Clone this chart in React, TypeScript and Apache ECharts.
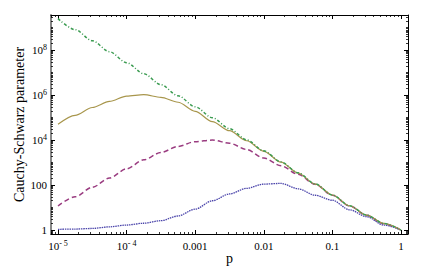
import React, { useEffect, useRef } from 'react';
import * as echarts from 'echarts';

// p grid (quarter decades)
const P_VALUES = [
  1e-5, 1.778e-5, 3.162e-5, 5.623e-5,
  1e-4, 1.778e-4, 3.162e-4, 5.623e-4,
  1e-3, 1.778e-3, 3.162e-3, 5.623e-3,
  0.01, 0.01778, 0.03162, 0.05623,
  0.1, 0.1778, 0.3162, 0.5623,
  1,
];

// dash-dot green
const GREEN = [
  2.5e9, 8.1e8, 2.6e8, 8.5e7,
  2.75e7, 8.9e6, 2.9e6, 9.3e5,
  3.0e5, 9.8e4, 3.2e4, 1.02e4,
  3300, 1070, 350, 112,
  36, 12, 4.6, 1.95,
  1.0,
];

// solid olive
const OLIVE = [
  5.0e4, 1.26e5, 2.8e5, 5.2e5,
  8.9e5, 1.05e6, 7.9e5, 4.8e5,
  1.9e5, 6.6e4, 2.6e4, 9300,
  3150, 1050, 340, 110,
  36, 12, 4.6, 1.95,
  1.0,
];

// dashed purple
const PURPLE = [
  11.7, 30, 79, 204,
  525, 1320, 2800, 5200,
  8500, 1.0e4, 7200, 3800,
  1580, 720, 300, 107,
  35, 11.7, 4.5, 1.9,
  1.0,
];

// dotted blue
const BLUE = [
  1.07, 1.1, 1.17, 1.38,
  1.66, 2.0, 2.6, 4.2,
  8.5, 20, 40, 71,
  110, 118, 68, 35,
  21, 7.9, 3.9, 1.66,
  1.0,
];

const X_TICK_EXP = [-5, -4, -3, -2, -1, 0];
const X_TICK_LABELS = ['10^-5', '10^-4', '0.001', '0.01', '0.1', '1'];
const Y_TICK_EXP = [0, 2, 4, 6, 8];
const Y_TICK_LABELS = ['1', '100', '10^4', '10^6', '10^8'];

const FONT = '"Liberation Serif", "DejaVu Serif", serif';

const X_MIN = -5.102;
const X_MAX = 0.102;
const Y_MIN = -0.178;
const Y_MAX = 9.56;

function minorTicks(lo: number, hi: number, majors: number[]) {
  const out: number[] = [];
  for (let n = Math.floor(lo) - 1; n <= Math.ceil(hi); n++) {
    for (let k = 1; k <= 9; k++) {
      const v = n + Math.log10(k);
      if (v <= lo || v >= hi) continue;
      if (k === 1 && majors.includes(n)) continue;
      out.push(v);
    }
  }
  return out;
}

function richLabel(s: string, b: string, sup: string) {
  if (s.includes('^')) {
    const [base, exp] = s.split('^');
    return `{${b}|${base}}{${sup}|${exp.replace('-', '- ')}}`;
  }
  return `{${b}|${s}}`;
}

export default function App() {
  const ref = useRef<HTMLDivElement>(null);
  useEffect(() => {
    if (!ref.current) return;
    const chart = echarts.init(ref.current, undefined, { renderer: 'svg' });
    const xMinor = minorTicks(X_MIN, X_MAX, X_TICK_EXP);
    const yMinor = minorTicks(Y_MIN, Y_MAX, Y_TICK_EXP);

    const baseAxis = (min: number, max: number) => ({
      type: 'value' as const,
      min,
      max,
      splitLine: { show: false },
    });

    const xAxisDefs = [
      {
        ...baseAxis(X_MIN, X_MAX),
        position: 'bottom',
        name: 'p',
        nameLocation: 'middle',
        nameGap: 17,
        nameMoveOverlap: false,
        nameTextStyle: { fontFamily: FONT, fontSize: 14, color: '#000' },
        axisLine: { show: true, onZero: false, lineStyle: { color: '#000', width: 1 } },
        axisTick: { show: true, inside: true, length: 4, customValues: X_TICK_EXP, lineStyle: { color: '#000', width: 1 } },
        axisLabel: {
          show: true,
          customValues: X_TICK_EXP,
          margin: 5,
          formatter: (v: number) => {
            const i = X_TICK_EXP.findIndex((e) => Math.abs(e - v) < 1e-6);
            return i < 0 ? '' : richLabel(X_TICK_LABELS[i], 'b', 's');
          },
          rich: {
            b: { fontFamily: FONT, fontSize: 11, color: '#000', lineHeight: 13 },
            s: { fontFamily: FONT, fontSize: 8, color: '#000', verticalAlign: 'top', lineHeight: 9 },
          },
        },
      },
      {
        ...baseAxis(X_MIN, X_MAX),
        position: 'bottom',
        axisLine: { show: false, onZero: false },
        axisTick: { show: true, inside: true, length: 2, customValues: xMinor, lineStyle: { color: '#000', width: 0.8 } },
        axisLabel: { show: false },
      },
      {
        ...baseAxis(X_MIN, X_MAX),
        position: 'top',
        axisLine: { show: true, onZero: false, lineStyle: { color: '#000', width: 1 } },
        axisTick: { show: true, inside: true, length: 4, customValues: X_TICK_EXP, lineStyle: { color: '#000', width: 1 } },
        axisLabel: { show: false },
      },
      {
        ...baseAxis(X_MIN, X_MAX),
        position: 'top',
        axisLine: { show: false, onZero: false },
        axisTick: { show: true, inside: true, length: 2, customValues: xMinor, lineStyle: { color: '#000', width: 0.8 } },
        axisLabel: { show: false },
      },
    ];

    const yAxisDefs = [
      {
        ...baseAxis(Y_MIN, Y_MAX),
        position: 'left',
        name: 'Cauchy-Schwarz parameter',
        nameLocation: 'middle',
        nameGap: 25,
        nameMoveOverlap: false,
        nameTextStyle: { fontFamily: FONT, fontSize: 14, color: '#000' },
        axisLine: { show: true, onZero: false, lineStyle: { color: '#888', width: 2 } },
        axisTick: { show: true, inside: true, length: 4, customValues: Y_TICK_EXP, lineStyle: { color: '#000', width: 1 } },
        axisLabel: {
          show: true,
          customValues: Y_TICK_EXP,
          margin: 4,
          formatter: (v: number) => {
            const i = Y_TICK_EXP.findIndex((e) => Math.abs(e - v) < 1e-6);
            return i < 0 ? '' : richLabel(Y_TICK_LABELS[i], 'b', 's');
          },
          rich: {
            b: { fontFamily: FONT, fontSize: 11, color: '#000', lineHeight: 13 },
            s: { fontFamily: FONT, fontSize: 8, color: '#000', verticalAlign: 'top', lineHeight: 9 },
          },
        },
      },
      {
        ...baseAxis(Y_MIN, Y_MAX),
        position: 'left',
        axisLine: { show: false, onZero: false },
        axisTick: { show: true, inside: true, length: 2, customValues: yMinor, lineStyle: { color: '#000', width: 0.8 } },
        axisLabel: { show: false },
      },
      {
        ...baseAxis(Y_MIN, Y_MAX),
        position: 'right',
        axisLine: { show: true, onZero: false, lineStyle: { color: '#000', width: 1 } },
        axisTick: { show: true, inside: true, length: 4, customValues: Y_TICK_EXP, lineStyle: { color: '#000', width: 1 } },
        axisLabel: { show: false },
      },
      {
        ...baseAxis(Y_MIN, Y_MAX),
        position: 'right',
        axisLine: { show: false, onZero: false },
        axisTick: { show: true, inside: true, length: 2, customValues: yMinor, lineStyle: { color: '#000', width: 0.8 } },
        axisLabel: { show: false },
      },
    ];

    const toXY = (vals: number[]) => P_VALUES.map((p, i) => [Math.log10(p), Math.log10(vals[i])]);

    const line = (name: string, vals: number[], color: string, type: any, width: number) => ({
      name,
      type: 'line' as const,
      xAxisIndex: 0,
      yAxisIndex: 0,
      data: toXY(vals),
      showSymbol: false,
      smooth: 0.3,
      smoothMonotone: 'x' as const,
      lineStyle: { color, type, width },
    });

    chart.setOption({
      animation: false,
      backgroundColor: '#fff',
      grid: { left: 51, right: 28, top: 15, bottom: 40, containLabel: false },
      xAxis: xAxisDefs,
      yAxis: yAxisDefs,
      series: [
        line('blue', BLUE, '#4a44aa', [1.5, 0.8], 1.3),
        line('purple', PURPLE, '#9a3c80', [5, 3], 1.5),
        line('olive', OLIVE, '#a8964c', 'solid', 1.2),
        line('green', GREEN, '#3c9c52', [3, 2, 1, 2], 1.5),
      ],
    } as any);
    return () => chart.dispose();
  }, []);
  return <div ref={ref} style={{ position: 'absolute', left: 0, top: 0, width: 436, height: 274 }} />;
}
